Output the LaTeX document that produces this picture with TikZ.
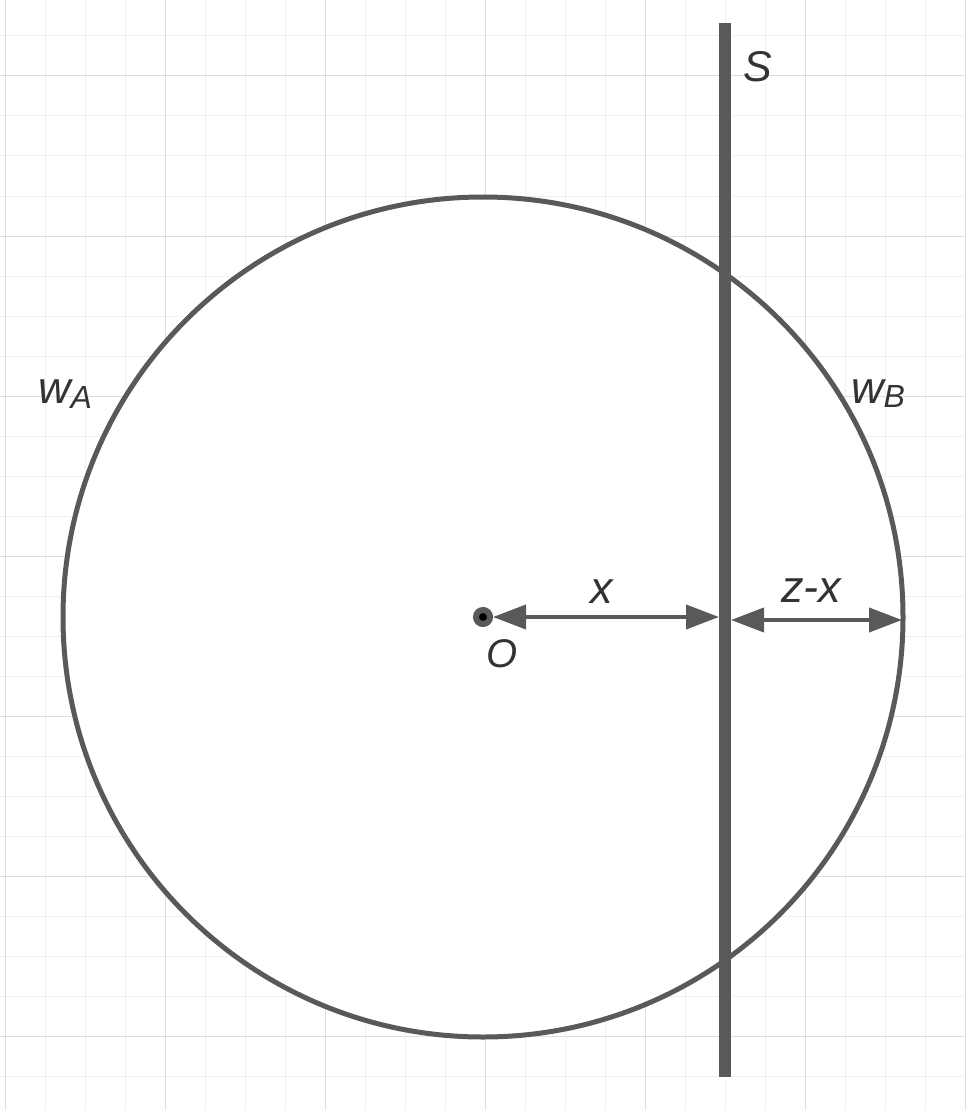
\documentclass[tikz,border=0pt]{standalone}
\usepackage{fontspec}
\setmainfont{Liberation Sans}
\usetikzlibrary{arrows.meta,positioning}
\definecolor{ink}{RGB}{89,89,89}
\definecolor{txt}{RGB}{51,51,51}
\definecolor{gridmin}{RGB}{240,240,240}
\definecolor{gridmaj}{RGB}{222,222,222}

\begin{document}
\begin{tikzpicture}[x=1pt, y=-1pt, >={Triangle[length=33pt,width=24pt]},
  lbl/.style={font=\fontsize{45}{48}\selectfont\itshape, text=txt, inner sep=0pt},
  dim/.style={<->, ink, line width=4pt}]
\useasboundingbox (0,0) rectangle (966,1110);
\fill[white] (0,0) rectangle (966,1110);
% background grid
\foreach \i in {0,...,24} \draw[gridmin, line width=1pt] (5+40*\i,0) -- (5+40*\i,1110);
\foreach \j in {1,...,27} \draw[gridmin, line width=1pt] (0,-4+40*\j) -- (966,-4+40*\j);
\foreach \i in {0,...,6} \draw[gridmaj, line width=1pt] (5+160*\i,0) -- (5+160*\i,1110);
\foreach \j in {0,...,6} \draw[gridmaj, line width=1pt] (0,76+160*\j) -- (966,76+160*\j);
% disc and screen
\node[circle, draw=ink, fill=white, line width=5pt, minimum size=840pt, inner sep=0pt] (disc) at (483,617) {};
\node[fill=ink, minimum width=12pt, minimum height=1054pt, inner sep=0pt] (wall) at (725,550) {};
\node[circle, fill=black, draw=ink, line width=6pt, minimum size=14pt, inner sep=0pt] (O) at (483,617) {};
% dimension arrows
\coordinate (wl) at (719,617);
\coordinate (wr) at (731,620);
\coordinate (rim) at (902,620);
\draw[dim] (O) -- (wl);
\draw[dim] (wr) -- (rim);
% labels
\node[lbl, anchor=base] (xlbl) at (602,603) {x};
\node[lbl, anchor=base] (zxlbl) at (811,602) {z-x};
\node[lbl, font=\fontsize{40}{44}\selectfont\itshape, anchor=base west] (Olbl) at (486,667) {O};
\node[lbl, font=\fontsize{43}{46}\selectfont\itshape, anchor=base west] (Slbl) at (743,82) {S};
\node[lbl, anchor=base west] (wA) at (38,403) {w\raisebox{-5pt}{\fontsize{32}{32}\selectfont A}};
\node[lbl, anchor=base west] (wB) at (851,403) {w\raisebox{-4pt}{\fontsize{32}{32}\selectfont B}};
\end{tikzpicture}
\end{document}
